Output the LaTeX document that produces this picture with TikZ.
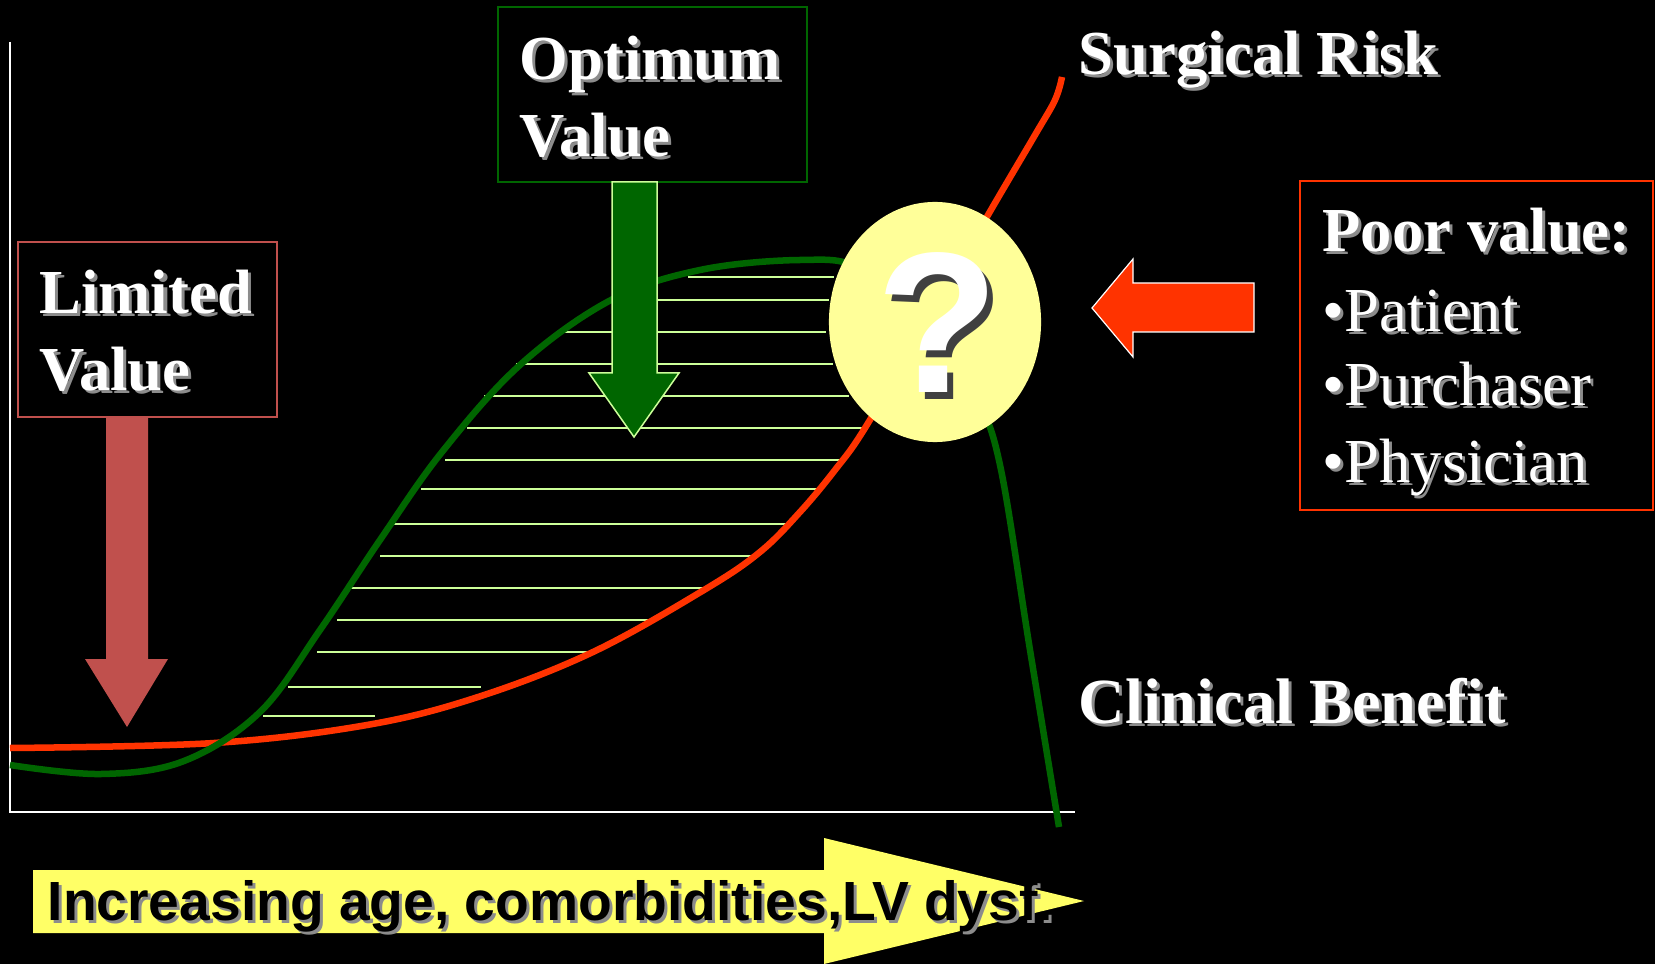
\documentclass[tikz,border=0pt]{standalone}
\usepackage{fontspec}
\setmainfont{Liberation Serif}
\newfontfamily\arialfont{Liberation Sans}
\usetikzlibrary{shapes.geometric}

\definecolor{riskred}{HTML}{FF3300}
\definecolor{benefitgreen}{HTML}{006600}
\definecolor{hatchgreen}{HTML}{CCFF99}
\definecolor{limitedred}{HTML}{C0504D}
\definecolor{queryyellow}{HTML}{FFFF99}
\definecolor{axisyellow}{HTML}{FFFF66}

% text with a soft offset copy behind it
\newcommand{\shadowed}[3][0.03cm]{\leavevmode\rlap{\kern#1\raisebox{-#1}{\color{#2}#3}}#3}

\begin{document}
\begin{tikzpicture}[
    x=0.01cm, y=-0.01cm,
    heading/.style={text=white, inner sep=0pt, anchor=base west, font=\bfseries\fontsize{17.8}{21}\selectfont},
    entry/.style={heading, font=\fontsize{17.8}{21}\selectfont},
    frame/.style={draw, line width=0.015cm, inner sep=0pt},
    curve/.style={line width=0.065cm, line join=round},
    hatch/.style={hatchgreen, line width=0.02cm}
]
    \useasboundingbox (0,0) rectangle (1655,964);
    \fill[black] (0,0) rectangle (1655,964);

    % Axes
    \coordinate (origin) at (10,812);
    \coordinate (ytop) at (10,42);
    \coordinate (xend) at (1075,812);
    \draw[white, line width=0.02cm] (ytop) -- (origin) -- (xend);

    % Hatching between the two curves
    \foreach \y/\xa/\xb in {277/688/834, 300/606/829, 332/561/826, 364/516/833,
        396/484/849, 428/467/865, 460/445/842, 489/421/817, 524/394/788,
        556/380/755, 588/351/704, 620/337/654, 652/317/594, 687/288/481, 716/263/375}
        \draw[hatch] (\xa,\y) -- (\xb,\y);

    % Curves
    \draw[curve, riskred] plot[smooth, tension=0.6] coordinates {
        (10,748) (214,743) (367,725) (478,697) (593,652) (704,590) (760,552)
        (800,512) (835,470) (865,428) (925,325) (988,215) (1035,135) (1055,100) (1062,77)};
    \draw[curve, benefitgreen] plot[smooth, tension=0.6] coordinates {
        (10,765) (101,774) (184,761) (260,712) (320,630) (380,540) (442,452)
        (520,365) (611,300) (700,270) (800,260) (860,268) (930,320) (975,395)
        (1000,465) (1030,650) (1059,827)};

    % Question mark
    \node[ellipse, fill=queryyellow, minimum width=2.12cm, minimum height=2.4cm, inner sep=0pt] (query) at (935,322) {};
    \node[anchor=base, inner sep=0pt, text=white, font=\arialfont\bfseries\fontsize{57}{60}\selectfont] (qmark) at (938,393) {\shadowed[0.06cm]{black!75}{?}};

    % Boxes
    \node[frame, limitedred, minimum width=2.59cm, minimum height=1.75cm] (limited) at (147.5,329.5) {};
    \node[frame, benefitgreen, minimum width=3.09cm, minimum height=1.75cm] (optimum) at (652.5,94.5) {};
    \node[frame, riskred, line width=0.02cm, minimum width=3.53cm, minimum height=3.29cm] (poor) at (1476.5,345.5) {};

    % Block arrows
    \fill[limitedred] (106,417) -- (148,417) -- (148,659) -- (168,659) -- (127,727)
        -- (85,659) -- (106,659) -- cycle;
    \filldraw[fill=benefitgreen, draw=hatchgreen, line width=0.015cm] (612,182) -- (657,182)
        -- (657,373) -- (679,373) -- (634,437) -- (589,373) -- (612,373) -- cycle;
    \filldraw[fill=riskred, draw=white, line width=0.012cm] (1254,283) -- (1133,283)
        -- (1133,259) -- (1092,308) -- (1133,357) -- (1133,332) -- (1254,332) -- cycle;
    \fill[axisyellow] (33,870) -- (824,870) -- (824,838) -- (1084,901) -- (824,964)
        -- (824,933) -- (33,933) -- cycle;

    % Labels
    \node[heading] (lim1) at (39,314) {\shadowed{black!45}{Limited}};
    \node[heading] (lim2) at (39,390) {\shadowed{black!45}{Value}};
    \node[heading] (opt1) at (519,80) {\shadowed{black!45}{Optimum}};
    \node[heading] (opt2) at (519,157) {\shadowed{black!45}{Value}};
    \node[heading] (risk) at (1078,75) {\shadowed{black!45}{Surgical Risk}};
    \node[heading, font=\bfseries\fontsize{18.3}{21}\selectfont] (benefit) at (1078,723) {\shadowed{black!45}{Clinical Benefit}};
    \node[heading] (poor0) at (1322,252) {\shadowed{black!45}{Poor value:}};
    \node[entry] (poor1) at (1322,331) {\shadowed{black!45}{•Patient}};
    \node[entry] (poor2) at (1322,406) {\shadowed{black!45}{•Purchaser}};
    \node[entry] (poor3) at (1322,482) {\shadowed{black!45}{•Physician}};
    \node[anchor=base west, inner sep=0pt, text=black, font=\arialfont\bfseries\fontsize{15.7}{18}\selectfont] (factors) at (47,920)
        {\shadowed{black!45}{Increasing age, comorbidities,LV dysf.}};
\end{tikzpicture}
\end{document}
